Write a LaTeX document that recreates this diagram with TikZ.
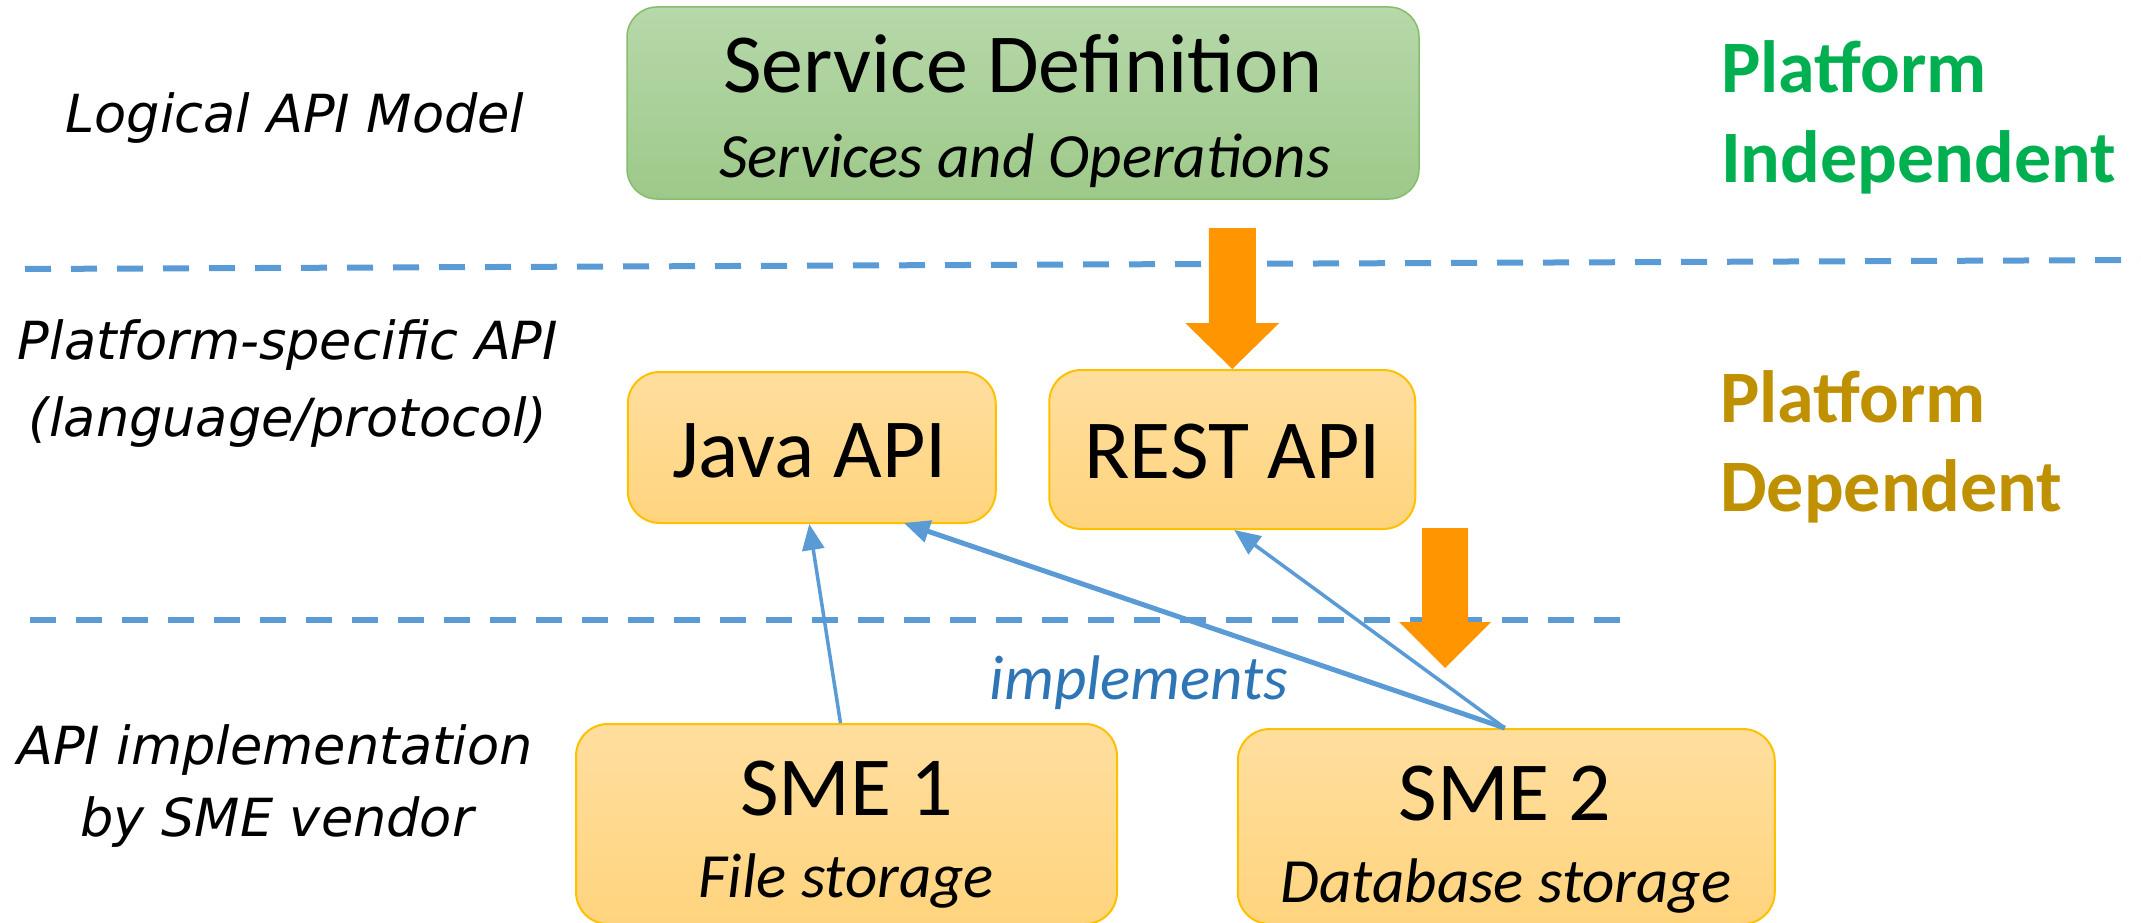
\documentclass[tikz,border=0pt]{standalone}
\usepackage{fontspec}
\setmainfont{Carlito}
\newfontfamily\lblfont{DejaVu Sans}
\usetikzlibrary{arrows.meta,calc}
\definecolor{dashblue}{HTML}{5B9BD5}
\definecolor{implblue}{HTML}{2E75B6}
\definecolor{arrorange}{HTML}{FF9500}
\definecolor{grtop}{HTML}{B7D8AA}
\definecolor{grbot}{HTML}{9DC989}
\definecolor{grline}{HTML}{86BC6B}
\definecolor{ortop}{HTML}{FFDE9E}
\definecolor{orbot}{HTML}{FFD47E}
\definecolor{orline}{HTML}{FFC000}
\definecolor{indgreen}{HTML}{00B050}
\definecolor{depgold}{HTML}{BF9000}
\begin{document}
\begin{tikzpicture}[x=1pt,y=-1pt,
  greenbox/.style={rectangle, rounded corners=30pt, draw=grline, line width=1.5pt, top color=grtop, bottom color=grbot, inner sep=0pt},
  orangebox/.style={rectangle, rounded corners=32pt, draw=orline, line width=2pt, top color=ortop, bottom color=orbot, inner sep=0pt},
  bigtext/.style={inner sep=0pt, anchor=base, font=\fontsize{84}{100}\selectfont},
  subtext/.style={inner sep=0pt, anchor=base, font=\fontsize{63}{76}\selectfont\itshape},
  sidelabel/.style={inner sep=0pt, anchor=base, font=\lblfont\itshape\fontsize{52.5}{63}\selectfont},
  rightlabel/.style={inner sep=0pt, anchor=base west, font=\fontsize{74}{88}\selectfont\bfseries},
  dashline/.style={draw=dashblue, line width=6pt, dash pattern=on 26pt off 20pt},
  implarrow/.style={draw=dashblue, line width=3.5pt, -{Triangle[length=26pt,width=22pt]}},
  blockarrow/.style={fill=arrorange}
]
\useasboundingbox (0,0) rectangle (2141,923);
\clip (0,0) rectangle (2141,923);

% dashed separators
\coordinate (d1a) at (25,269);
\coordinate (d1b) at (2141,260);
\coordinate (d2a) at (30,620);
\coordinate (d2b) at (1636,620);
\draw[dashline] (d1a) -- (d1b);
\draw[dashline] (d2a) -- (d2b);

% boxes
\node[greenbox, minimum width=792pt, minimum height=192pt] (def) at (1023,103) {};
\node[orangebox, minimum width=368pt, minimum height=151pt] (java) at (811.75,447.5) {};
\node[orangebox, minimum width=366pt, minimum height=159pt] (rest) at (1232.25,449.5) {};
\node[orangebox, minimum width=541pt, minimum height=200pt] (sme1) at (846.5,824) {};
\node[orangebox, minimum width=537pt, minimum height=195pt] (sme2) at (1506.25,826.5) {};

% box texts
\node[bigtext] (deftitle) at (1023,93) {Service Definition};
\node[subtext] (defsub) at (1025,177) {Services and Operations};
\node[bigtext] (javatxt) at (809.5,477) {Java API};
\node[bigtext] (resttxt) at (1232.7,478) {REST API};
\node[bigtext] (sme1txt) at (846.5,815) {SME 1};
\node[subtext] (sme1sub) at (846.5,897) {File storage};
\node[bigtext] (sme2txt) at (1505,820) {SME 2};
\node[subtext] (sme2sub) at (1506,902) {Database storage};

% left labels
\node[sidelabel] (l1) at (295,132) {Logical API Model};
\node[sidelabel] (l2a) at (288,359) {Platform-specific API};
\node[sidelabel] (l2b) at (288,436) {(language/protocol)};
\node[sidelabel] (l3a) at (275,764) {API implementation};
\node[sidelabel] (l3b) at (277,836) {by SME vendor};

% right labels
\node[rightlabel, text=indgreen] (r1a) at (1721,93) {Platform};
\node[rightlabel, text=indgreen] (r1b) at (1721,182) {Independent};
\node[rightlabel, text=depgold] (r2a) at (1720,422) {Platform};
\node[rightlabel, text=depgold] (r2b) at (1720,511) {Dependent};

% orange block arrows
\fill[blockarrow, shift={(rest.north)}] (-23.5,-141) -- (23.5,-141) -- (23.5,-46) -- (47,-46) -- (0,0) -- (-47,-46) -- (-23.5,-46) -- cycle;
\fill[blockarrow] (1422,528) -- (1468,528) -- (1468,622) -- (1491,622) -- (1445,668) -- (1399,622) -- (1422,622) -- cycle;

% implements arrows
\draw[implarrow] ([xshift=-6pt]sme1.north) -- ([xshift=-2.5pt]java.south);
\draw[implarrow, line width=5pt] ([xshift=-1.5pt]sme2.north) -- ([xshift=92pt,yshift=1pt]java.south);
\draw[implarrow] ([xshift=-1.5pt]sme2.north) -- ([xshift=2pt]rest.south);

\node[subtext, text=implblue] (impl) at (1139,699) {implements};
\end{tikzpicture}
\end{document}
